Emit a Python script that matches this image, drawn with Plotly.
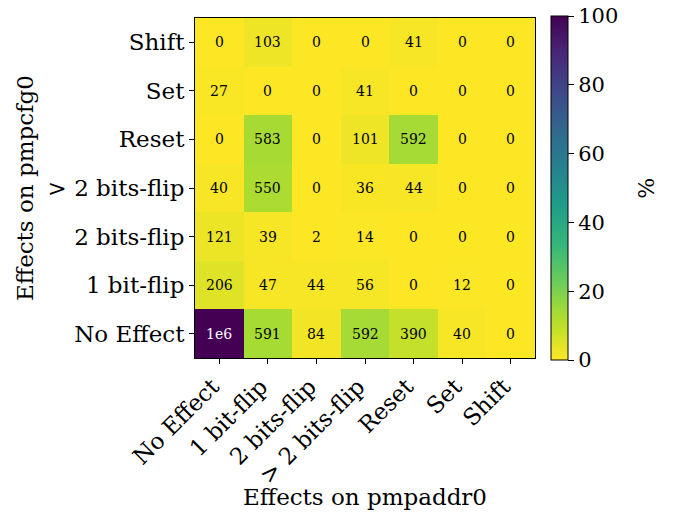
import plotly.graph_objects as go
import numpy as np

x_labels = ["No Effect", "1 bit-flip", "2 bits-flip", "> 2 bits-flip", "Reset", "Set", "Shift"]
y_labels = ["No Effect", "1 bit-flip", "2 bits-flip", "> 2 bits-flip", "Reset", "Set", "Shift"]

# counts, rows = pmpcfg0 effect (bottom to top), columns = pmpaddr0 effect
row_no_effect = [1000000, 591, 84, 592, 390, 40, 0]
row_1bit = [206, 47, 44, 56, 0, 12, 0]
row_2bits = [121, 39, 2, 14, 0, 0, 0]
row_gt2bits = [40, 550, 0, 36, 44, 0, 0]
row_reset = [0, 583, 0, 101, 592, 0, 0]
row_set = [27, 0, 0, 41, 0, 0, 0]
row_shift = [0, 103, 0, 0, 41, 0, 0]

colorbar_ticks = [0, 20, 40, 60, 80, 100]

counts = np.array([row_no_effect, row_1bit, row_2bits, row_gt2bits, row_reset, row_set, row_shift], dtype=float)
labels = [["1e6" if v >= 1e6 else str(int(v)) for v in r] for r in counts]
# percentage relative to all effective (non No-Effect/No-Effect) outcomes
mask = np.ones_like(counts, dtype=bool)
mask[0, 0] = False
total = counts[mask].sum()
pct = np.clip(counts / total * 100, 0, 100)

font_family = "DejaVu Serif"
TICK = 23
CELL = 14

fig = go.Figure(go.Heatmap(
    z=pct, x=x_labels, y=y_labels,
    colorscale="Viridis", reversescale=True, zmin=0, zmax=100,
    colorbar=dict(
        x=1.047, xanchor="left", xpad=0, y=0.5, yanchor="middle", ypad=0,
        len=1.012, lenmode="fraction", thickness=17,
        outlinewidth=1, outlinecolor="black",
        tickvals=colorbar_ticks, ticklabeloverflow="allow",
        ticks="outside", ticklen=6, tickcolor="black",
        tickfont=dict(family=font_family, size=21, color="black"),
    ),
    hoverinfo="skip",
))

annotations = []
for i, yl in enumerate(y_labels):
    for j, xl in enumerate(x_labels):
        annotations.append(dict(
            x=xl, y=yl, xref="x", yref="y", text=labels[i][j], showarrow=False,
            font=dict(family=font_family, size=CELL, color="white" if pct[i][j] > 50 else "black"),
        ))

# axis titles and colorbar label
annotations.append(dict(x=0.5, y=-0.409, xref="paper", yref="paper", text="Effects on pmpaddr0",
                        showarrow=False, xanchor="center", yanchor="middle",
                        font=dict(family=font_family, size=TICK, color="black")))
annotations.append(dict(x=-0.5, y=0.5, xref="paper", yref="paper", text="Effects on pmpcfg0",
                        showarrow=False, xanchor="center", yanchor="middle", textangle=-90,
                        font=dict(family=font_family, size=TICK, color="black")))
annotations.append(dict(x=1.326, y=0.5, xref="paper", yref="paper", text="%",
                        showarrow=False, xanchor="center", yanchor="middle", textangle=-90,
                        font=dict(family=font_family, size=22, color="black")))

fig.update_layout(
    width=673, height=519,
    margin=dict(l=195, r=138, t=18, b=161, autoexpand=False),
    plot_bgcolor="white", paper_bgcolor="white",
    font=dict(family=font_family, size=TICK, color="black"),
    annotations=annotations,
    xaxis=dict(
        tickangle=-45, ticks="outside", ticklen=5, tickcolor="black",
        tickfont=dict(size=TICK), ticklabelshift=-7,
        showline=True, linecolor="black", linewidth=1, mirror=True,
        showgrid=False, zeroline=False,
    ),
    yaxis=dict(
        ticks="outside", ticklen=5, tickcolor="black",
        tickfont=dict(size=TICK),
        showline=True, linecolor="black", linewidth=1, mirror=True,
        showgrid=False, zeroline=False,
    ),
)

fig.write_html(
    "out.html",
    config={"displayModeBar": False},
    post_script="document.body.style.margin='0';document.body.style.overflow='hidden';",
)
